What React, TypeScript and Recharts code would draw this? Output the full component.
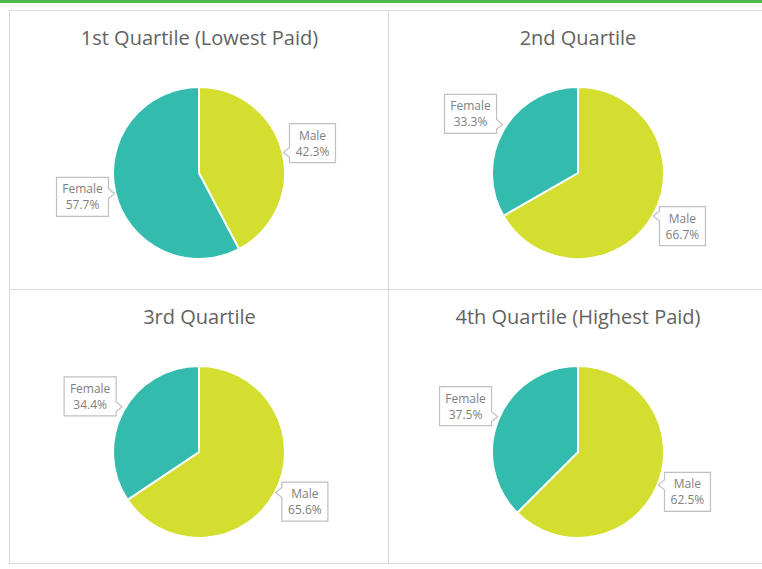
import React from "react";
import { PieChart, Pie, Cell } from "recharts";

const quartileTitles = [
  "1st Quartile (Lowest Paid)",
  "2nd Quartile",
  "3rd Quartile",
  "4th Quartile (Highest Paid)",
];
const genders = ["Male", "Female"];
const malePct = [42.3, 66.7, 65.6, 62.5];
const femalePct = [57.7, 33.3, 34.4, 37.5];
const genderColors = ["#D4DE2F", "#33BCAE"];

const FONT = "'Open Sans', 'Noto Sans', sans-serif";

const renderLabel = (props: any) => {
  const { cx, cy, midAngle, outerRadius, name, value } = props;
  const rad = Math.PI / 180;
  const cos = Math.cos(-midAngle * rad);
  const sin = Math.sin(-midAngle * rad);
  const px = cx + outerRadius * cos;
  const py = cy + outerRadius * sin;
  const right = cos >= 0;
  const w = name.length > 4 ? 52 : 46;
  const h = 39;
  const gap = 7;
  const bx = right ? px + gap : px - gap - w;
  const centerY = py + sin * 26 - 3;
  const by = centerY - h / 2;
  const tipY = Math.min(Math.max(py, by + 9), by + h - 9);
  const n1 = tipY - 5;
  const n2 = tipY + 5;
  let d: string;
  if (right) {
    const tipX = bx - 6;
    d = `M${bx},${by} H${bx + w} V${by + h} H${bx} V${n2} L${tipX},${tipY} L${bx},${n1} Z`;
  } else {
    const ex = bx + w;
    const tipX = ex + 6;
    d = `M${bx},${by} H${ex} V${n1} L${tipX},${tipY} L${ex},${n2} V${by + h} H${bx} Z`;
  }
  return (
    <g>
      <path d={d} fill="#ffffff" stroke="#c0c0c0" strokeWidth={1.2} />
      <text
        x={bx + w / 2}
        y={by + 16}
        textAnchor="middle"
        fill="#808080"
        fontSize={12}
        fontFamily={FONT}
      >
        {name}
      </text>
      <text
        x={bx + w / 2}
        y={by + 32}
        textAnchor="middle"
        fill="#808080"
        fontSize={12}
        fontFamily={FONT}
      >
        {value.toFixed(1)}%
      </text>
    </g>
  );
};

const cells = [
  { left: 9, top: 10, width: 379, height: 279 },
  { left: 388, top: 10, width: 374, height: 279 },
  { left: 9, top: 289, width: 379, height: 275 },
  { left: 388, top: 289, width: 374, height: 275 },
];

export default function App() {
  return (
    <div
      style={{
        position: "absolute",
        left: 0,
        top: 0,
        width: 762,
        height: 569,
        background: "#ffffff",
        overflow: "hidden",
      }}
    >
      <div
        style={{
          position: "absolute",
          left: 0,
          top: 0,
          width: 762,
          height: 3,
          background: "#4DB848",
        }}
      />
      {quartileTitles.map((title, i) => {
        const c = cells[i];
        const data = genders.map((g, j) => ({
          name: g,
          value: j === 0 ? malePct[i] : femalePct[i],
        }));
        return (
          <div
            key={title}
            style={{
              position: "absolute",
              left: c.left,
              top: c.top,
              width: c.width,
              height: c.height,
              borderLeft: "1px solid #d9d9d9",
              borderTop: "1px solid #d9d9d9",
              borderBottom: i >= 2 ? "1px solid #d9d9d9" : "none",
              boxSizing: "border-box",
            }}
          >
            <div
              style={{
                position: "absolute",
                left: 0,
                top: 14,
                width: i % 2 === 0 ? 379 : 378,
                textAlign: "center",
                fontFamily: FONT,
                fontSize: 20,
                color: "#626262",
                lineHeight: "26px",
              }}
            >
              {title}
            </div>
            <div style={{ position: "absolute", left: -1, top: -1 }}>
              <PieChart width={379} height={279}>
                <Pie
                  data={data}
                  dataKey="value"
                  nameKey="name"
                  cx={185}
                  cy={158}
                  outerRadius={86}
                  startAngle={90}
                  endAngle={-270}
                  stroke="#ffffff"
                  strokeWidth={2}
                  label={renderLabel}
                  labelLine={false}
                  isAnimationActive={false}
                >
                  {data.map((d, j) => (
                    <Cell key={d.name} fill={genderColors[j]} />
                  ))}
                </Pie>
              </PieChart>
            </div>
          </div>
        );
      })}
    </div>
  );
}
